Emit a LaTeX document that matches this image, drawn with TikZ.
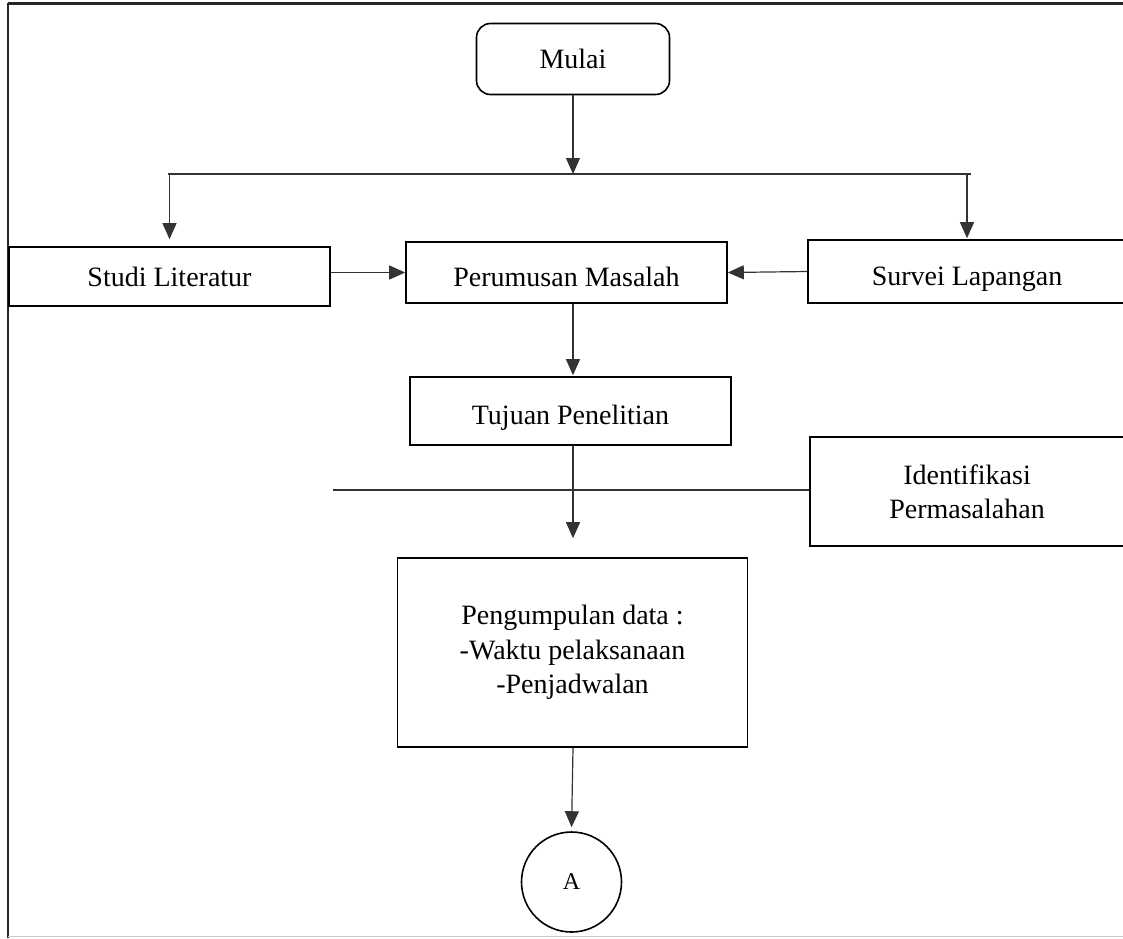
\documentclass[tikz,border=0pt]{standalone}
\usepackage{fontspec}
\setmainfont{Liberation Serif}
\usetikzlibrary{arrows.meta,calc}
\begin{document}
\begin{tikzpicture}[x=1pt,y=-1pt,
  box/.style={draw=black,line width=1.6pt,inner sep=0pt,align=center,font=\fontsize{28}{34}\selectfont},
  conn/.style={draw=black!80,line width=1.2pt},
  arr/.style={conn,-{Triangle[length=16pt,width=14pt]}}]
\useasboundingbox (0,0) rectangle (1123,938);
\clip (0,0) rectangle (1123,938);
% frame
\draw[line width=3pt,black!85] (8,3) -- (1123,3);
\draw[line width=2.5pt,black!85] (8,3) -- (8,938);
\draw[line width=1.5pt,black!20] (8,936.5) -- (1123,936.5);
% nodes
\node[box,rounded corners=14pt,minimum width=193pt,minimum height=71pt] (mulai) at (573,59) {Mulai};
\node[box,minimum width=321pt,minimum height=59pt] (studi) at (169.5,276.5) {Studi Literatur};
\node[box,minimum width=321pt,minimum height=61pt,text height=28.5pt,text depth=0pt] (perumusan) at (566.5,272.5) {Perumusan Masalah};
\node[box,minimum width=318pt,minimum height=63pt,text height=28.5pt,text depth=0pt] (survei) at (967,271.5) {Survei Lapangan};
\node[box,minimum width=321pt,minimum height=68pt,text height=26.5pt,text depth=0pt] (tujuan) at (570.5,411) {Tujuan Penelitian};
\node[box,minimum width=314pt,minimum height=109pt] (ident) at (967,491.5) {Identifikasi\\Permasalahan};
\node[box,minimum width=350pt,minimum height=189pt,font=\fontsize{28}{34.5}\selectfont] (peng) at (572.5,652.5) {Pengumpulan data :\\-Waktu pelaksanaan\\-Penjadwalan};
\node[box,circle,minimum size=100pt,font=\fontsize{24}{28}\selectfont] (A) at (571.5,882) {A};
% coordinates
\coordinate (split) at (573,174);
\coordinate (lineL) at (333,490);
% connectors
\draw[arr] (mulai.south) -- (split);
\draw[conn] (168,174) -- (971,174);
\draw[arr,shorten >=7pt] (split) -| (studi.north);
\draw[arr,shorten >=1pt] (split) -| (survei.north);
\draw[arr] (studi.east |- perumusan.west) -- (perumusan.west);
\draw[arr] (survei.west) -- (perumusan.east);
\draw[arr,shorten >=1pt] (perumusan.south -| split) -- (tujuan.north -| split);
\draw[conn] (lineL) -- (lineL -| ident.west);
\draw[arr,shorten >=19pt] (tujuan.south -| split) -- (peng.north -| split);
\draw[arr,shorten >=4pt] (peng.south -| split) -- (A.north);
\end{tikzpicture}
\end{document}
